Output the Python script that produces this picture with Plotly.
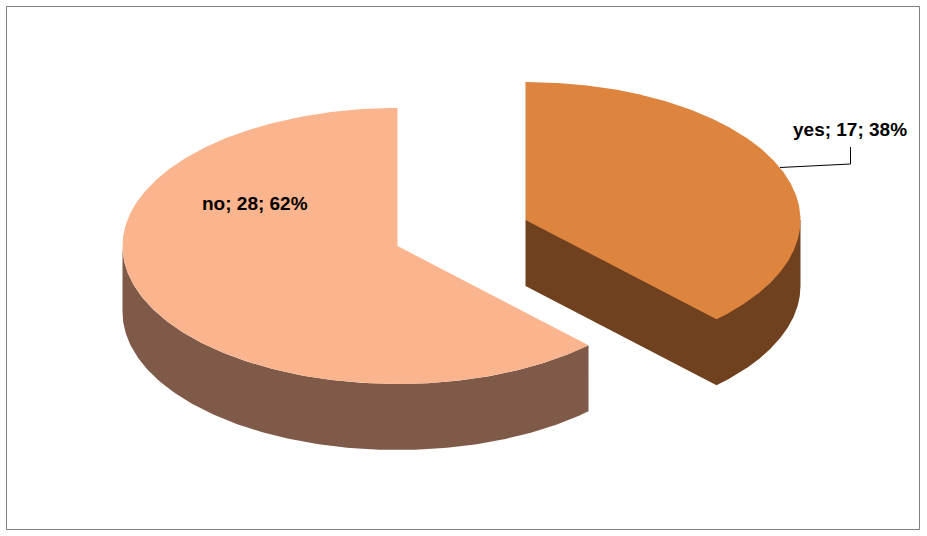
import numpy as np
import plotly.graph_objects as go

categories = ["yes", "no"]
values = [17, 28]
percents = [38, 62]

TOP_COLORS = {"yes": "#DD843F", "no": "#FAB58F"}
WALL_COLORS = {"yes": "#6F411E", "no": "#7F5A48"}
CENTERS = {"yes": (525.5, 220), "no": (397.5, 246)}
LABEL_POS = {"yes": (850, 129), "no": (255, 203)}
RX, RY, DEPTH = 275, 138, 66

W, H = 927, 536
fig = go.Figure()


def ell(c, t, dy=0):
    return c[0] + RX * np.sin(t), c[1] - RY * np.cos(t) + dy


split = 2 * np.pi * values[0] / sum(values)
spans = {"yes": (0.0, split), "no": (split, 2 * np.pi)}


def poly(x, y, color):
    fig.add_trace(go.Scatter(x=x, y=y, mode="lines", fill="toself", fillcolor=color,
                             line=dict(width=0, color=color), hoverinfo="skip",
                             showlegend=False))


for name in categories:
    c = CENTERS[name]
    a, b = spans[name]
    # visible outer wall: only the part of the rim facing the viewer
    wa, wb = max(a, np.pi / 2), min(b, 3 * np.pi / 2)
    t = np.linspace(wa, wb, 200)
    if name == "yes":
        # one outline for rim wall and cut face; its upper part sits under the top face
        x2, y2 = ell(c, t, DEPTH)
        poly(np.r_[c[0], c[0] + RX, x2, c[0], c[0]],
             np.r_[c[1], c[1], y2, c[1] + DEPTH, c[1]], WALL_COLORS[name])
    else:
        x1, y1 = ell(c, t)
        x2, y2 = ell(c, t[::-1], DEPTH)
        poly(np.r_[x1, x2], np.r_[y1, y2], WALL_COLORS[name])
    # top face
    t = np.linspace(a, b, 400)
    x, y = ell(c, t)
    poly(np.r_[c[0], x, c[0]], np.r_[c[1], y, c[1]], TOP_COLORS[name])

annotations = []
for name, v, p in zip(categories, values, percents):
    lx, ly = LABEL_POS[name]
    annotations.append(dict(x=lx, y=ly, xref="x", yref="y", showarrow=False,
                            text=f"<b>{name}; {v}; {p}%</b>",
                            font=dict(family="Liberation Sans", size=19, color="black")))

leader = go.Scatter(x=[780, 850.5, 850.5], y=[167.5, 164, 147], mode="lines",
                    line=dict(color="black", width=1), hoverinfo="skip", showlegend=False)
fig.add_trace(leader)

fig.update_layout(
    width=W, height=H, margin=dict(l=0, r=0, t=0, b=0),
    paper_bgcolor="white", plot_bgcolor="white", showlegend=False,
    annotations=annotations,
    xaxis=dict(range=[0, W], visible=False, fixedrange=True),
    yaxis=dict(range=[H, 0], visible=False, fixedrange=True),
    shapes=[dict(type="rect", xref="x", yref="y", x0=6.5, y0=6.5, x1=919.5, y1=529.5,
                 line=dict(color="#808080", width=1), layer="below")],
)
fig.write_html("out.html", config={"displayModeBar": False},
               post_script="document.body.style.margin='0';document.body.style.overflow='hidden';window.dispatchEvent(new Event('resize'));")
